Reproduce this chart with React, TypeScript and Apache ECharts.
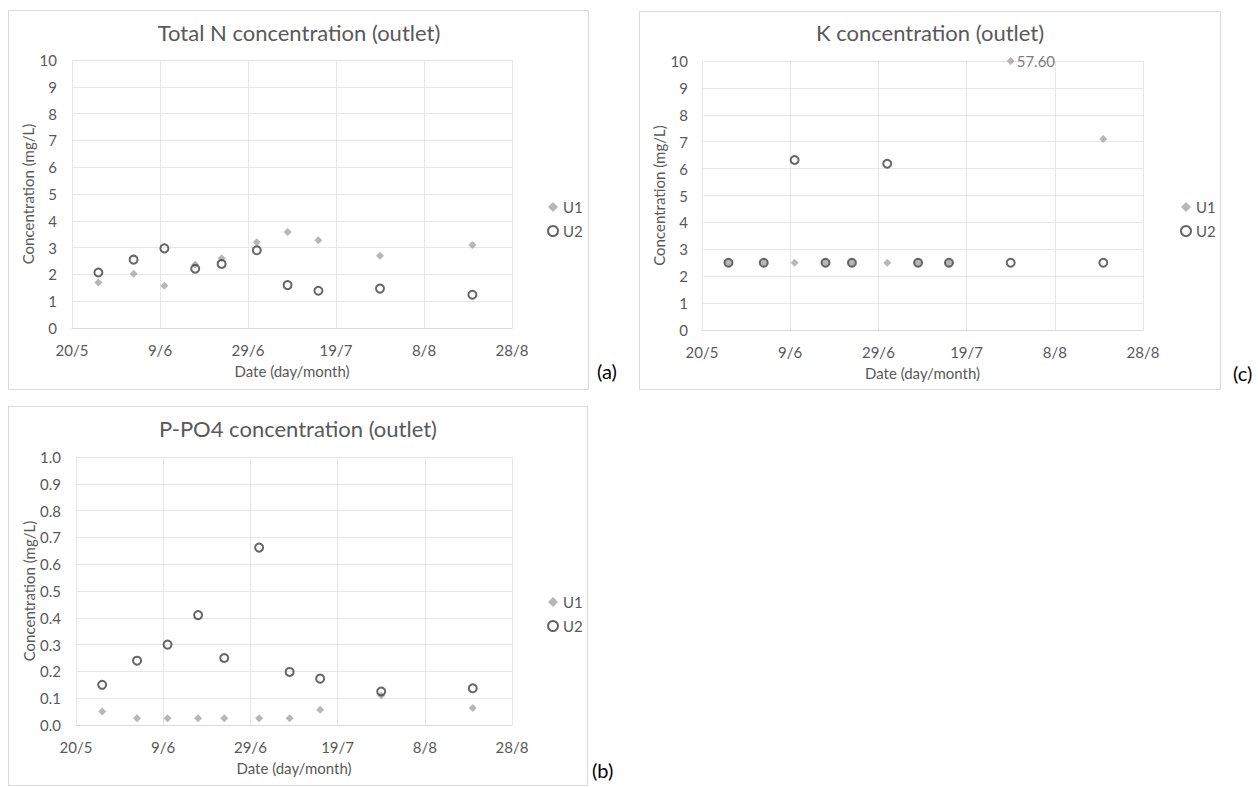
import React, { useEffect, useRef } from "react";
import * as echarts from "echarts";

// Sampling dates (day/month) shared by all three panels
const sampleDates = ["26/5", "3/6", "10/6", "17/6", "23/6", "1/7", "8/7", "15/7", "29/7", "19/8"];

// Total N (mg/L)
const totalN_U1 = [1.7, 2.02, 1.58, 2.37, 2.6, 3.2, 3.58, 3.27, 2.7, 3.1];
const totalN_U2 = [2.07, 2.55, 2.97, 2.21, 2.39, 2.9, 1.6, 1.39, 1.47, 1.24];

// P-PO4 (mg/L)
const ppo4_U1 = [0.05, 0.025, 0.025, 0.025, 0.025, 0.025, 0.025, 0.057, 0.11, 0.063];
const ppo4_U2 = [0.15, 0.24, 0.3, 0.41, 0.25, 0.662, 0.198, 0.173, 0.125, 0.137];

// K (mg/L)
const k_U1 = [2.5, 2.5, 2.5, 2.5, 2.5, 2.5, 2.5, 2.5, 57.6, 7.1];
const k_U2 = [2.5, 2.5, 6.32, 2.5, 2.5, 6.18, 2.5, 2.5, 2.5, 2.5];

// X axis: days counted from 20/5, ticks every 20 days up to 28/8
const axisStart = "20/5";
const xMin = 0;
const xMax = 100;
const xInterval = 20;

const panelTitles = [
  "Total N concentration (outlet)",
  "K concentration (outlet)",
  "P-PO4 concentration (outlet)",
];
const panelTags = ["(a)", "(c)", "(b)"];
const yName = "Concentration (mg/L)";
const xName = "Date (day/month)";
const seriesNames = ["U1", "U2"];

const YEAR = 2019;
function toDate(dm: string) {
  const [d, m] = dm.split("/").map(Number);
  return Date.UTC(YEAR, m - 1, d);
}
const DAY = 86400000;
const base = toDate(axisStart);
function dayOffset(dm: string) {
  return Math.round((toDate(dm) - base) / DAY);
}
function dayLabel(v: number) {
  const dt = new Date(base + v * DAY);
  return `${dt.getUTCDate()}/${dt.getUTCMonth() + 1}`;
}

const FONT = "Lato, 'Open Sans', sans-serif";
const TEXT = "#595959";
const GRID_LINE = "#e6e6e6";
const U1_COLOR = "#a5a5a5";
const U2_COLOR = "#404040";
const LABEL_SIZE = 15;

export default function App() {
  const ref = useRef<HTMLDivElement>(null);

  useEffect(() => {
    if (!ref.current) return;
    const chart = echarts.init(ref.current, null, { renderer: "svg" });

    const xs = sampleDates.map(dayOffset);
    // Points above the axis cap sit on the top edge and carry their real value as a label
    const pair = (vals: number[], cap = Infinity) =>
      vals.map((v, i) => ({ value: [xs[i], Math.min(v, cap)], real: v }));

    // Plot areas in page pixels
    const grids = [
      { left: 72, top: 60, width: 440, height: 268 },
      { left: 702, top: 61, width: 441, height: 269 },
      { left: 76, top: 457, width: 436, height: 268 },
    ];
    // Outer frames [x, y, w, h]
    const frames = [
      [8.5, 10.5, 580, 379],
      [639.5, 11.5, 581, 378],
      [8.5, 406.5, 579, 379],
    ];
    const titleCenters = [
      [299, 21],
      [930, 21],
      [298, 417],
    ];
    const yAxes = [
      { max: 10, interval: 1, fmt: (v: number) => String(v), gap: 36, margin: 15 },
      { max: 10, interval: 1, fmt: (v: number) => String(v), gap: 34, margin: 14 },
      { max: 1, interval: 0.1, fmt: (v: number) => v.toFixed(1), gap: 40, margin: 15 },
    ];
    const legendPos = [
      { left: 547, top: 199 },
      { left: 1180, top: 199 },
      { left: 547, top: 594 },
    ];
    const tagPos = [
      [597, 361],
      [1233, 363],
      [592, 760],
    ];

    const seriesData = [
      [pair(totalN_U1), pair(totalN_U2)],
      [pair(k_U1, 10), pair(k_U2)],
      [pair(ppo4_U1), pair(ppo4_U2)],
    ];

    const series: any[] = [];
    seriesData.forEach((pairData, gi) => {
      series.push({
        type: "scatter",
        name: seriesNames[0],
        xAxisIndex: gi,
        yAxisIndex: gi,
        symbol: "diamond",
        symbolSize: 8,
        itemStyle: { color: U1_COLOR },
        data: pairData[0].map((p) => ({
          value: p.value,
          label:
            p.real > p.value[1]
              ? {
                  show: true,
                  position: "right",
                  distance: 2,
                  formatter: p.real.toFixed(2),
                  color: TEXT,
                  fontSize: LABEL_SIZE,
                  fontFamily: FONT,
                }
              : { show: false },
        })),
        clip: false,
        z: 2,
      });
      series.push({
        type: "scatter",
        name: seriesNames[1],
        xAxisIndex: gi,
        yAxisIndex: gi,
        symbol: "circle",
        symbolSize: 8,
        itemStyle: { color: "rgba(0,0,0,0)", borderColor: U2_COLOR, borderWidth: 2 },
        data: pairData[1].map((p) => p.value),
        z: 3,
      });
    });

    const option: any = {
      animation: false,
      backgroundColor: "#ffffff",
      title: titleCenters.map((c, i) => ({
        text: panelTitles[i],
        left: c[0],
        top: c[1],
        textAlign: "center",
        padding: 0,
        textStyle: { color: TEXT, fontSize: 22, fontWeight: "normal", fontFamily: FONT },
      })),
      legend: legendPos.map((lp) => ({
        orient: "vertical",
        left: lp.left,
        top: lp.top,
        padding: 0,
        itemGap: 8,
        itemWidth: 10,
        itemHeight: 10,
        selectedMode: false,
        textStyle: { color: TEXT, fontSize: LABEL_SIZE, fontFamily: FONT, lineHeight: 16 },
        data: [
          { name: seriesNames[0], icon: "diamond", itemStyle: { color: U1_COLOR } },
          {
            name: seriesNames[1],
            icon: "circle",
            itemStyle: { color: "rgba(0,0,0,0)", borderColor: U2_COLOR, borderWidth: 2 },
          },
        ],
      })),
      grid: grids.map((g) => ({ ...g, containLabel: false })),
      xAxis: grids.map((_, i) => ({
        type: "value",
        gridIndex: i,
        min: xMin,
        max: xMax,
        interval: xInterval,
        name: xName,
        nameLocation: "middle",
        nameGap: 35,
        nameTextStyle: { color: TEXT, fontSize: LABEL_SIZE, fontFamily: FONT },
        axisLine: { show: true, lineStyle: { color: "#d9d9d9", width: 1 } },
        axisTick: { show: false },
        axisLabel: {
          color: TEXT,
          fontSize: LABEL_SIZE,
          fontFamily: FONT,
          margin: 14,
          formatter: (v: number) => dayLabel(v),
        },
        splitLine: { show: true, lineStyle: { color: GRID_LINE, width: 1 } },
      })),
      yAxis: yAxes.map((ya, i) => ({
        type: "value",
        gridIndex: i,
        min: 0,
        max: ya.max,
        interval: ya.interval,
        name: yName,
        nameLocation: "middle",
        nameGap: ya.gap,
        nameRotate: 90,
        nameTextStyle: { color: TEXT, fontSize: LABEL_SIZE, fontFamily: FONT },
        axisLine: { show: false },
        axisTick: { show: false },
        axisLabel: {
          color: TEXT,
          fontSize: LABEL_SIZE,
          fontFamily: FONT,
          margin: ya.margin,
          formatter: ya.fmt,
        },
        splitLine: { show: true, lineStyle: { color: GRID_LINE, width: 1 } },
      })),
      graphic: [
        ...frames.map((f) => ({
          type: "rect",
          shape: { x: f[0], y: f[1], width: f[2], height: f[3] },
          style: { fill: "none", stroke: "#d9d9d9", lineWidth: 1 },
          silent: true,
          z: -1,
        })),
        ...tagPos.map((p, i) => ({
          type: "text",
          x: p[0],
          y: p[1],
          style: { text: panelTags[i], fill: "#000000", fontSize: 20, fontFamily: FONT },
          silent: true,
        })),
      ],
      series,
    };

    chart.setOption(option);
    return () => chart.dispose();
  }, []);

  return (
    <div
      ref={ref}
      style={{ position: "fixed", left: 0, top: 0, width: 1258, height: 787, background: "#fff" }}
    />
  );
}
